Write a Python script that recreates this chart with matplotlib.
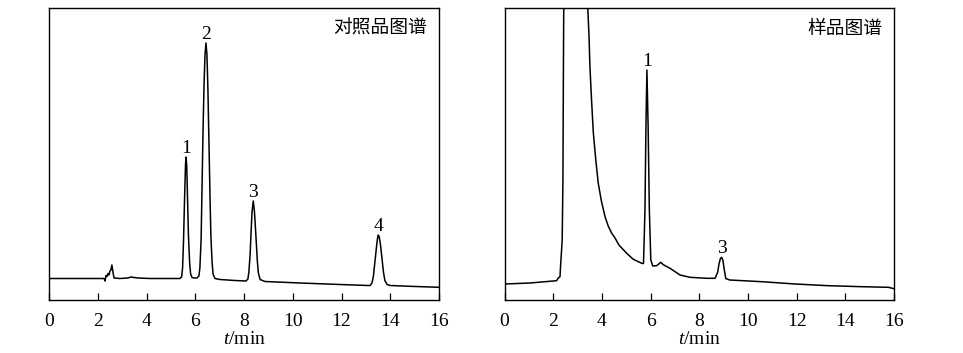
import matplotlib.pyplot as plt

plt.rcParams['font.family'] = ['Liberation Serif', 'Noto Sans CJK SC']
plt.rcParams['mathtext.fontset'] = 'custom'
plt.rcParams['mathtext.rm'] = 'Liberation Serif'
plt.rcParams['mathtext.it'] = 'Liberation Serif:italic'

# reference standard trace (t in min, signal in arbitrary units)
ref_t = [0.00, 1.27, 2.26, 2.30, 2.34, 2.38, 2.42, 2.46, 2.50, 2.54, 2.58, 2.63, 2.67,
         2.91, 3.24, 3.36, 3.49, 3.65, 4.14, 5.37, 5.44, 5.48, 5.52, 5.56, 5.60, 5.62,
         5.65, 5.68, 5.72, 5.77, 5.81, 5.87, 5.95, 6.07, 6.15, 6.19, 6.24, 6.28, 6.32,
         6.36, 6.40, 6.44, 6.48, 6.52, 6.56, 6.60, 6.64, 6.69, 6.73, 6.81, 7.01, 7.63,
         8.08, 8.16, 8.20, 8.25, 8.29, 8.33, 8.38, 8.43, 8.47, 8.51, 8.55, 8.59, 8.66,
         8.86, 10.30, 11.94, 13.09, 13.17, 13.25, 13.31, 13.37, 13.44, 13.48, 13.51,
         13.55, 13.60, 13.66, 13.72, 13.78, 13.87, 13.99, 14.81, 16.00]
ref_s = [21.5, 21.5, 21.5, 19, 24.5, 23.5, 26.5, 25, 29, 30, 35, 27, 22,
         21.5, 22, 23, 22.5, 22, 21.5, 21.5, 23, 32, 60, 100, 135, 143,
         135, 105, 65, 37, 26, 22.5, 22, 22, 24, 32, 60, 115, 170,
         215, 245, 257, 245, 210, 160, 110, 65, 38, 26, 21.5, 20.5, 19.5,
         19, 21, 28, 45, 68, 88, 99, 88, 72, 55, 38, 27, 20.5,
         18.5, 17, 15.5, 14.5, 14.5, 17, 24, 38, 54, 62, 65,
         63, 55, 42, 28, 19.5, 15.5, 14.5, 13.7, 12.7]

# sample trace
smp_t = [0.00, 1.05, 2.14, 2.21, 2.28, 2.31, 2.35, 2.37, 2.40, 2.42, 2.44, 3.39, 3.42,
         3.47, 3.51, 3.58, 3.65, 3.75, 3.85, 3.98, 4.13, 4.26, 4.40, 4.54, 4.70, 5.02,
         5.29, 5.64, 5.71, 5.77, 5.81, 5.85, 5.90, 5.95, 6.01, 6.09, 6.25, 6.42, 6.52,
         6.80, 7.21, 7.62, 8.31, 8.65, 8.76, 8.81, 8.87, 8.92, 8.97, 9.03, 9.09, 9.25,
         10.57, 11.94, 13.30, 14.68, 15.77, 16.00]
smp_s = [16, 17, 19.3, 22, 23.3, 37, 52, 60, 120, 233, 320, 320, 292,
         265, 233, 198, 167, 140, 117, 99, 83.3, 74, 67, 62, 55, 46.7,
         40.7, 36.7, 36.5, 90, 173, 230, 173, 90, 40, 34, 34.3, 37.7, 35.3,
         31.7, 25, 22.7, 21.7, 21.7, 28, 36, 41.5, 42.7, 40, 30, 21.5, 20,
         18.3, 16, 14.3, 13.3, 12.7, 11.3]

ref_peaks = ['1', '2', '3', '4']
ref_peak_t = [5.62, 6.44, 8.38, 13.51]
ref_peak_s = [143, 257, 99, 65]
smp_peaks = ['1', '3']
smp_peak_t = [5.85, 8.92]
smp_peak_s = [230, 42.7]

fig = plt.figure(figsize=(9.63, 3.53), dpi=100)
W, H = 963, 353
ax1 = fig.add_axes([49 / W, 53 / H, 390 / W, 292 / H])
ax2 = fig.add_axes([504.5 / W, 53 / H, 389.5 / W, 292 / H])

panels = [(ax1, ref_t, ref_s, ref_peaks, ref_peak_t, ref_peak_s, '对照品图谱'),
          (ax2, smp_t, smp_s, smp_peaks, smp_peak_t, smp_peak_s, '样品图谱')]

for ax, t, s, labels, pt, ps, title in panels:
    ax.plot(t, s, color='black', lw=1.1)
    ax.set_xlim(0, 16)
    ax.set_ylim(0, 292)
    ax.set_xticks(range(0, 17, 2))
    ax.set_yticks([])
    ax.tick_params(axis='x', direction='in', length=5, width=0.9,
                   labelsize=14, pad=9, top=False)
    for sp in ax.spines.values():
        sp.set_linewidth(1.0)
    for lab, x, y in zip(labels, pt, ps):
        ax.annotate(lab, (x, y), xytext=(0, 0), textcoords='offset points',
                    ha='center', va='bottom', fontsize=14)
    ax.text(0.97, 0.93, title, transform=ax.transAxes, ha='right', va='center',
            fontsize=13.5, family=['Noto Sans CJK SC', 'DejaVu Sans'])
    ax.set_xlabel('$t$/min', fontsize=14, labelpad=1)

fig.savefig('out.png', dpi=100)
